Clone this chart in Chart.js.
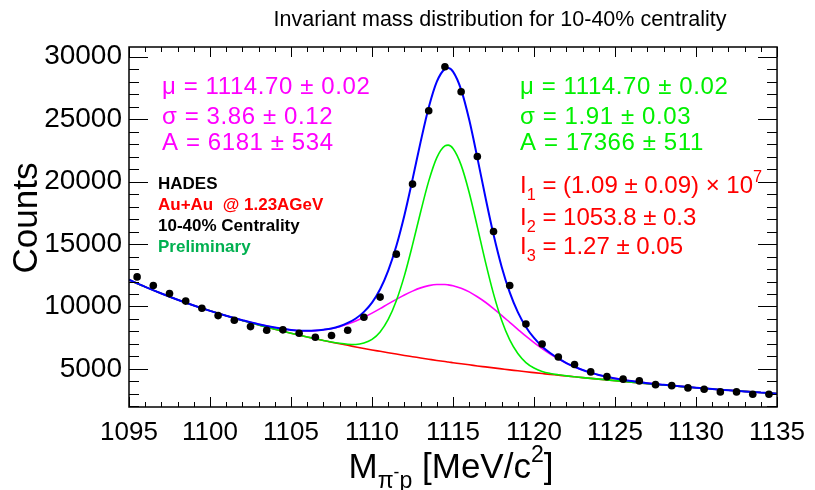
<!DOCTYPE html>
<html>
<head>
<meta charset="utf-8">
<script src="https://cdn.jsdelivr.net/npm/chart.js@4.4.1/dist/chart.umd.min.js"></script>
<style>
  body { margin: 0; background: #fff; }
</style>
</head>
<body>
<canvas id="massChart" width="815" height="490"></canvas>
<script>
// measured counts per 1 MeV bin
const binCenters = [1095.5, 1096.5, 1097.5, 1098.5, 1099.5, 1100.5, 1101.5, 1102.5, 1103.5, 1104.5,
  1105.5, 1106.5, 1107.5, 1108.5, 1109.5, 1110.5, 1111.5, 1112.5, 1113.5, 1114.5,
  1115.5, 1116.5, 1117.5, 1118.5, 1119.5, 1120.5, 1121.5, 1122.5, 1123.5, 1124.5,
  1125.5, 1126.5, 1127.5, 1128.5, 1129.5, 1130.5, 1131.5, 1132.5, 1133.5, 1134.5];
const counts = [12370, 11680, 11030, 10430, 9860, 9270, 8900, 8390, 8100, 8130,
  7860, 7540, 7670, 8100, 9140, 10750, 14190, 19800, 25670, 29200,
  27200, 22010, 16000, 11680, 8600, 7000, 5960, 5350, 4760, 4380,
  4180, 4040, 3740, 3660, 3480, 3370, 3160, 3160, 2970, 2970];

// fit curves
const curveX = [1095, 1096, 1097, 1098, 1099, 1100, 1101, 1102, 1103, 1104, 1105, 1106,
  1106.5, 1107, 1107.5, 1108, 1108.5, 1109, 1109.5, 1110, 1110.5, 1111, 1111.5, 1112, 1112.5, 1113, 1113.5, 1114, 1114.5,
  1114.7,
  1115, 1115.5, 1116, 1116.5, 1117, 1117.5, 1118, 1118.5, 1119, 1119.5, 1120, 1120.5, 1121, 1121.5, 1122, 1122.5, 1123, 1123.5,
  1124, 1125, 1126, 1127, 1128, 1129, 1130, 1131, 1132, 1133, 1134, 1135];
const bgFit = [12140, 11570, 11040, 10540, 10080, 9650, 9250, 8870, 8510, 8180, 7860, 7560,
  7420, 7280, 7140, 7010, 6890, 6760, 6640, 6520, 6410, 6300, 6190, 6080, 5980, 5880, 5780, 5680, 5590,
  5550,
  5500, 5410, 5330, 5240, 5160, 5080, 5000, 4920, 4850, 4770, 4700, 4630, 4560, 4500, 4430, 4370, 4300, 4240,
  4180, 4060, 3940, 3820, 3710, 3600, 3490, 3390, 3290, 3200, 3110, 3020];
const narrowFit = [12140, 11570, 11040, 10540, 10080, 9650, 9250, 8870, 8510, 8180, 7860, 7560,
  7420, 7280, 7150, 7050, 6980, 6960, 7070, 7360, 7960, 8960, 10460, 12470, 14930, 17570, 20040, 21920, 22860,
  22920,
  22650, 21320, 19110, 16380, 13570, 11010, 8900, 7320, 6230, 5510, 5070, 4800, 4640, 4530, 4440, 4370, 4300, 4240,
  4180, 4060, 3940, 3820, 3710, 3600, 3490, 3390, 3290, 3200, 3110, 3020];
const wideFit = [12140, 11570, 11040, 10540, 10080, 9650, 9260, 8900, 8570, 8310, 8120, 8050,
  8070, 8130, 8230, 8380, 8590, 8840, 9140, 9470, 9830, 10210, 10570, 10920, 11230, 11490, 11670, 11760, 11760,
  11730,
  11660, 11460, 11170, 10780, 10340, 9830, 9290, 8730, 8170, 7620, 7110, 6630, 6190, 5810, 5460, 5170, 4910, 4700,
  4520, 4240, 4030, 3860, 3730, 3610, 3490, 3390, 3290, 3200, 3110, 3020];
const totalFit = [12140, 11570, 11040, 10540, 10080, 9650, 9260, 8900, 8570, 8310, 8120, 8050,
  8070, 8140, 8240, 8420, 8680, 9040, 9570, 10310, 11380, 12870, 14840, 17310, 20180, 23180, 25930, 28000, 29030,
  29100,
  28810, 27370, 24950, 21920, 18750, 15760, 13190, 11130, 9550, 8360, 7480, 6800, 6270, 5840, 5470, 5170, 4910, 4700,
  4520, 4240, 4030, 3860, 3730, 3610, 3490, 3390, 3290, 3200, 3110, 3020];

const xTicks = [1095, 1100, 1105, 1110, 1115, 1120, 1125, 1130, 1135];
const yTicks = [5000, 10000, 15000, 20000, 25000, 30000];

const FONT = '"Liberation Sans", Arial, Helvetica, sans-serif';

const pts = (xs, ys) => xs.map((x, i) => ({ x: x, y: ys[i] }));

function curve(data, color, width) {
  return {
    data: data,
    borderColor: color,
    borderWidth: width,
    pointRadius: 0,
    fill: false,
    cubicInterpolationMode: 'monotone'
  };
}

// text with sub/superscripts: parts = [[text, 'sub'|'sup'|null], ...]
function rich(ctx, x, y, parts, size, weight) {
  let cx = x;
  parts.forEach(([txt, mode]) => {
    const fs = mode ? size * 0.68 : size;
    const dy = mode === 'sub' ? size * 0.28 : mode === 'sup' ? -size * 0.45 : 0;
    ctx.font = (weight || '') + ' ' + fs + 'px ' + FONT;
    ctx.fillText(txt, cx, y + dy);
    cx += ctx.measureText(txt).width;
  });
  return cx - x;
}

// ROOT style frame with inside ticks on all four sides
const frameTicks = {
  id: 'frameTicks',
  afterDatasetsDraw(chart) {
    const { ctx, chartArea: a, scales: { x, y } } = chart;
    ctx.save();
    ctx.strokeStyle = '#000';
    ctx.lineWidth = 1;
    ctx.beginPath();
    for (let v = xTicks[0]; v <= xTicks[xTicks.length - 1]; v++) {
      const px = Math.round(x.getPixelForValue(v)) + 0.5;
      const len = v % 5 === 0 ? 10 : 5;
      ctx.moveTo(px, a.bottom); ctx.lineTo(px, a.bottom - len);
      ctx.moveTo(px, a.top); ctx.lineTo(px, a.top + len);
    }
    for (let v = 2000; v <= 30000; v += 1000) {
      const py = Math.round(y.getPixelForValue(v)) + 0.5;
      const len = v % 5000 === 0 ? 19 : 10;
      ctx.moveTo(a.left, py); ctx.lineTo(a.left + len, py);
      ctx.moveTo(a.right, py); ctx.lineTo(a.right - len, py);
    }
    ctx.stroke();
    ctx.lineWidth = 1.5;
    ctx.strokeRect(a.left, a.top, a.right - a.left, a.bottom - a.top);
    ctx.restore();
  }
};

const labels = {
  id: 'labels',
  afterDraw(chart) {
    const ctx = chart.ctx;
    ctx.save();
    ctx.textBaseline = 'alphabetic';

    // title
    ctx.fillStyle = '#000';
    ctx.font = '21.5px ' + FONT;
    ctx.textAlign = 'center';
    ctx.fillText('Invariant mass distribution for 10-40% centrality', 500, 26);

    // y title
    ctx.save();
    ctx.translate(37, 218);
    ctx.rotate(-Math.PI / 2);
    ctx.font = '35px ' + FONT;
    ctx.fillText('Counts', 0, 0);
    ctx.restore();

    // x title: M_{pi^- p} [MeV/c^2]
    ctx.textAlign = 'left';
    const size = 35;
    const xt = [['M', 'n'], ['\u03c0', 'sub'], ['-', 'subsup'], ['p', 'sub'], [' [MeV/c', 'n'], ['2', 'sup'], [']', 'n']];
    const style = m => {
      if (m === 'sub') return [size * 0.66, size * 0.28];
      if (m === 'sup') return [size * 0.66, -size * 0.45];
      if (m === 'subsup') return [size * 0.5, size * 0.0];
      return [size, 0];
    };
    let w = 0;
    xt.forEach(([t, m]) => { ctx.font = style(m)[0] + 'px ' + FONT; w += ctx.measureText(t).width; });
    let cx = 451 - w / 2;
    xt.forEach(([t, m]) => {
      const [fs, dy] = style(m);
      ctx.font = fs + 'px ' + FONT;
      ctx.fillText(t, cx, 478 + dy);
      cx += ctx.measureText(t).width;
    });

    // gaussian parameters are set a little wider
    ctx.letterSpacing = '0.6px';

    // wide gaussian parameters
    ctx.fillStyle = '#ff00ff';
    rich(ctx, 162, 94, [['\u03bc = 1114.70 \u00b1 0.02', null]], 24);
    rich(ctx, 162, 124, [['\u03c3 = 3.86 \u00b1 0.12', null]], 24);
    rich(ctx, 162, 150, [['A = 6181 \u00b1 534', null]], 24);

    // narrow gaussian parameters
    ctx.fillStyle = '#00f000';
    rich(ctx, 520, 94, [['\u03bc = 1114.70 \u00b1 0.02', null]], 24);
    rich(ctx, 520, 124, [['\u03c3 = 1.91 \u00b1 0.03', null]], 24);
    rich(ctx, 520, 150, [['A = 17366 \u00b1 511', null]], 24);

    ctx.letterSpacing = '0px';

    // background parameters
    ctx.fillStyle = '#ff0000';
    rich(ctx, 520, 193, [['I', null], ['1', 'sub'], [' = (1.09 \u00b1 0.09) \u00d7 10', null], ['7', 'sup']], 24);
    rich(ctx, 520, 225, [['I', null], ['2', 'sub'], [' = 1053.8 \u00b1 0.3', null]], 24);
    rich(ctx, 520, 254, [['I', null], ['3', 'sub'], [' = 1.27 \u00b1 0.05', null]], 24);

    // experiment labels
    ctx.fillStyle = '#000';
    rich(ctx, 158, 189, [['HADES', null]], 17, 'bold');
    ctx.fillStyle = '#ff0000';
    rich(ctx, 158, 210, [['Au+Au  @ 1.23AGeV', null]], 17, 'bold');
    ctx.fillStyle = '#000';
    rich(ctx, 158, 231, [['10-40% Centrality', null]], 17, 'bold');
    ctx.fillStyle = '#00b050';
    rich(ctx, 158, 252, [['Preliminary', null]], 17, 'bold');

    ctx.restore();
  }
};

new Chart(document.getElementById('massChart'), {
  type: 'line',
  data: {
    datasets: [
      {
        data: pts(binCenters, counts),
        showLine: false,
        pointRadius: 3.8,
        pointBackgroundColor: '#000',
        pointBorderColor: '#000',
        pointBorderWidth: 0
      },
      curve(pts(curveX, totalFit), '#0000ff', 2),
      curve(pts(curveX, narrowFit), '#00ee00', 1.6),
      curve(pts(curveX, wideFit), '#ff00ff', 1.6),
      curve(pts(curveX, bgFit), '#ff0000', 1.6)
    ]
  },
  options: {
    responsive: false,
    animation: false,
    layout: { padding: { top: 47, right: 36, left: 0, bottom: 0 } },
    plugins: {
      legend: { display: false },
      tooltip: { enabled: false }
    },
    scales: {
      x: {
        type: 'linear',
        min: 1095,
        max: 1135,
        afterBuildTicks: s => { s.ticks = xTicks.map(v => ({ value: v })); },
        afterFit: s => { s.height = 83; },
        grid: { display: false, drawTicks: false },
        border: { display: false },
        ticks: {
          color: '#000',
          font: { size: 26, family: FONT },
          padding: 10,
          maxRotation: 0,
          autoSkip: false,
          callback: v => String(v)
        }
      },
      y: {
        type: 'linear',
        min: 1950,
        max: 30780,
        afterBuildTicks: s => { s.ticks = yTicks.map(v => ({ value: v })); },
        afterFit: s => { s.width = 129; },
        grid: { display: false, drawTicks: false },
        border: { display: false },
        ticks: {
          color: '#000',
          font: { size: 28, family: FONT },
          padding: 7,
          callback: v => String(v)
        }
      }
    }
  },
  plugins: [frameTicks, labels]
});
</script>
</body>
</html>
